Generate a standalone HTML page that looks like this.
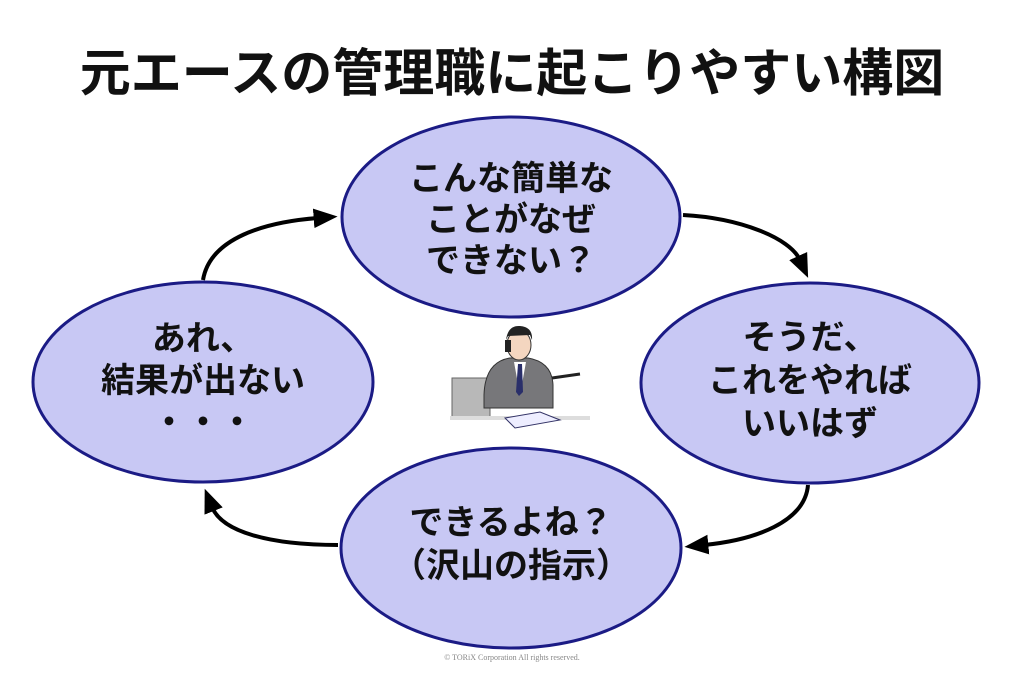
<!DOCTYPE html>
<html><head><meta charset="utf-8"><style>
html,body{margin:0;padding:0;background:#fff;}
svg{display:block}
text{font-family:"Liberation Sans","Noto Sans CJK JP",sans-serif;font-weight:bold;fill:#111;}
</style></head><body>
<svg width="1024" height="688" viewBox="0 0 1024 688" xmlns="http://www.w3.org/2000/svg">
<defs><marker id="ah" viewBox="0 0 22 18" markerWidth="24" markerHeight="20" refX="4" refY="9" orient="auto" markerUnits="userSpaceOnUse"><path d="M0,0 L22,9 L0,18 Z" fill="#000"/></marker></defs>
<text x="512" y="91" font-size="51" text-anchor="middle">元エースの管理職に起こりやすい構図</text>
<g fill="none" stroke="#000" stroke-width="4" marker-end="url(#ah)">
<path d="M203,280 C210,238 265,222 318,218"/>
<path d="M683,215 C740,218 790,238 800,260"/>
<path d="M808,485 C805,522 755,540 704,545"/>
<path d="M338,545 C270,545 222,532 212,507"/>
</g>
<g fill="#c8c8f4" stroke="#1b1b85" stroke-width="3">
<ellipse cx="511" cy="217" rx="169" ry="100"/>
<ellipse cx="810" cy="383" rx="169" ry="100"/>
<ellipse cx="511" cy="548" rx="170" ry="100"/>
<ellipse cx="203" cy="382" rx="170" ry="100"/>
</g>
<g font-size="34" text-anchor="middle">
<text x="511" y="190">こんな簡単な</text>
<text x="511" y="231">ことがなぜ</text>
<text x="511" y="272">できない？</text>
<text x="810" y="349">そうだ、</text>
<text x="810" y="392">これをやれば</text>
<text x="810" y="435">いいはず</text>
<text x="511" y="534">できるよね？</text>
<text x="511" y="577">（沢山の指示）</text>
<text x="203" y="350">あれ、</text>
<text x="203" y="392">結果が出ない</text>
<text x="203" y="434">・・・</text>
</g>
<g>
<rect x="452" y="378" width="38" height="40" fill="#b8b8b8" stroke="#666"/>
<path d="M484,395 Q485,362 510,358 L528,358 Q552,362 553,385 L553,408 L484,408 Z" fill="#77777a" stroke="#333"/>
<path d="M514,362 L520,395 L526,362 Z" fill="#fff"/>
<path d="M518,364 L522,364 L523,392 L519,396 L516,392 Z" fill="#2a2f6a"/>
<ellipse cx="519" cy="345" rx="12" ry="15" fill="#f4d6c0" stroke="#333"/>
<path d="M506,340 Q508,325 520,326 Q533,327 532,340 L530,335 L508,336 Z" fill="#222"/>
<rect x="505" y="340" width="6" height="12" fill="#222"/>
<path d="M552,378 L580,374" stroke="#222" stroke-width="3"/>
<rect x="450" y="416" width="140" height="4" fill="#ddd"/>
<path d="M505,418 L540,412 L560,420 L515,428 Z" fill="#eef" stroke="#336"/>
</g>
<text x="512" y="660" font-size="8" text-anchor="middle" style="font-family:'Liberation Serif',serif;font-weight:normal;fill:#888">© TORiX Corporation All rights reserved.</text>
</svg>
</body></html>
